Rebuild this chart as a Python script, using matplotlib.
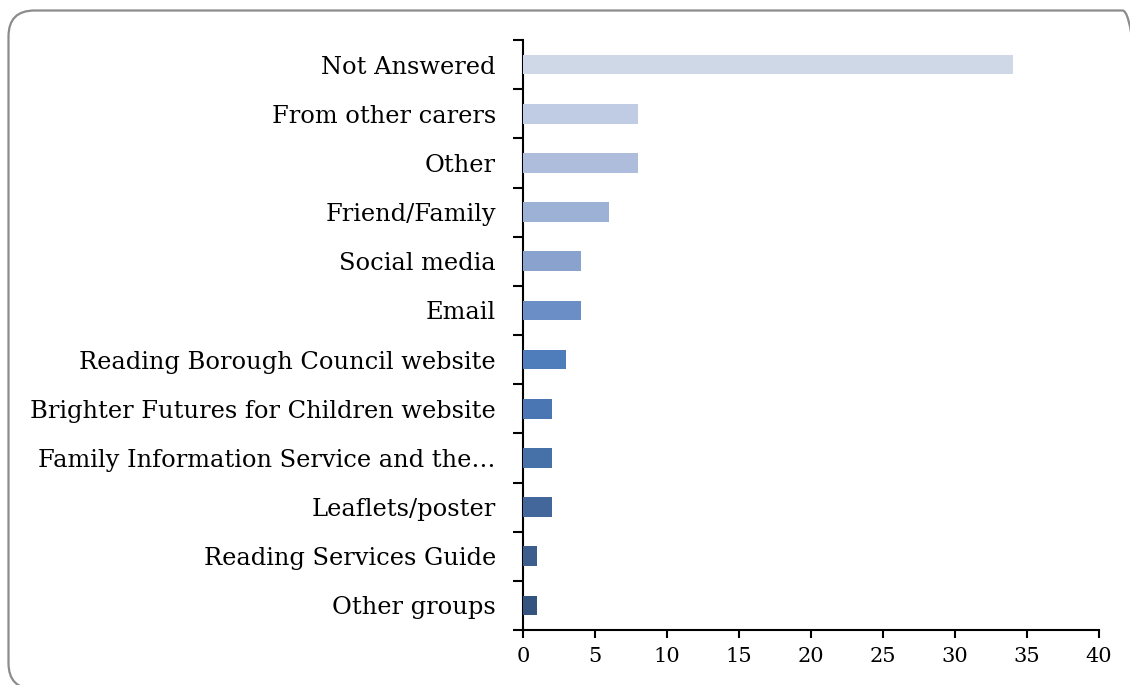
import matplotlib.pyplot as plt
import numpy as np
from matplotlib.patches import FancyBboxPatch

# Where respondents heard about the service (counts)
sources = [
    'Not Answered',
    'From other carers',
    'Other',
    'Friend/Family',
    'Social media',
    'Email',
    'Reading Borough Council website',
    'Brighter Futures for Children website',
    'Family Information Service and the\u2026',
    'Leaflets/poster',
    'Reading Services Guide',
    'Other groups',
]
counts = [34, 8, 8, 6, 4, 4, 3, 2, 2, 2, 1, 1]
bar_colors = ['#CFD8E7', '#C0CCE3', '#AEBDDB', '#9DB0D5', '#8AA3CE', '#6B8EC6',
              '#4F7DBB', '#4A77B3', '#4670A8', '#43679B', '#3D5E8C', '#34537F']
x_ticks = [0, 5, 10, 15, 20, 25, 30, 35, 40]

plt.rcParams['font.family'] = ['DejaVu Serif']

W, H = 1130, 685
fig = plt.figure(figsize=(W / 100, H / 100), dpi=100)

# background layer in pixel units for the rounded frame (origin bottom-left)
bg = fig.add_axes([0, 0, 1, 1], zorder=0)
bg.set_xlim(0, W)
bg.set_ylim(0, H)
bg.axis('off')
frame_top, frame_bottom = 10.5, 689
bg.add_patch(FancyBboxPatch((8.5, H - frame_bottom), 1140, frame_bottom - frame_top,
                            boxstyle='round,pad=0,rounding_size=26',
                            facecolor='none', edgecolor='#8C8C8C', linewidth=1.6,
                            clip_on=False))

ax = fig.add_axes([523 / W, 1 - 630 / H, (1099 - 523) / W, (630 - 40) / H], zorder=1)
ax.patch.set_alpha(0)

y = np.arange(len(sources))
ax.barh(y, counts, height=0.4, color=bar_colors, zorder=3)

ax.set_xlim(0, 40)
ax.set_ylim(len(sources) - 0.5, -0.5)
ax.set_xticks(x_ticks)
ax.set_xticklabels([str(t) for t in x_ticks], fontsize=15)

# category labels at bar centres, tick marks between categories
ax.set_yticks(y)
ax.set_yticklabels(sources, fontsize=17.4)
ax.set_yticks(np.arange(len(sources) + 1) - 0.5, minor=True)
ax.tick_params(axis='y', which='major', length=0, pad=19.5)
ax.tick_params(axis='y', which='minor', length=7, width=1.5)
ax.tick_params(axis='x', length=6, width=1.5, pad=6)

for side in ['top', 'right']:
    ax.spines[side].set_visible(False)
for side in ['left', 'bottom']:
    ax.spines[side].set_linewidth(1.5)

fig.savefig('out.png', dpi=100)
